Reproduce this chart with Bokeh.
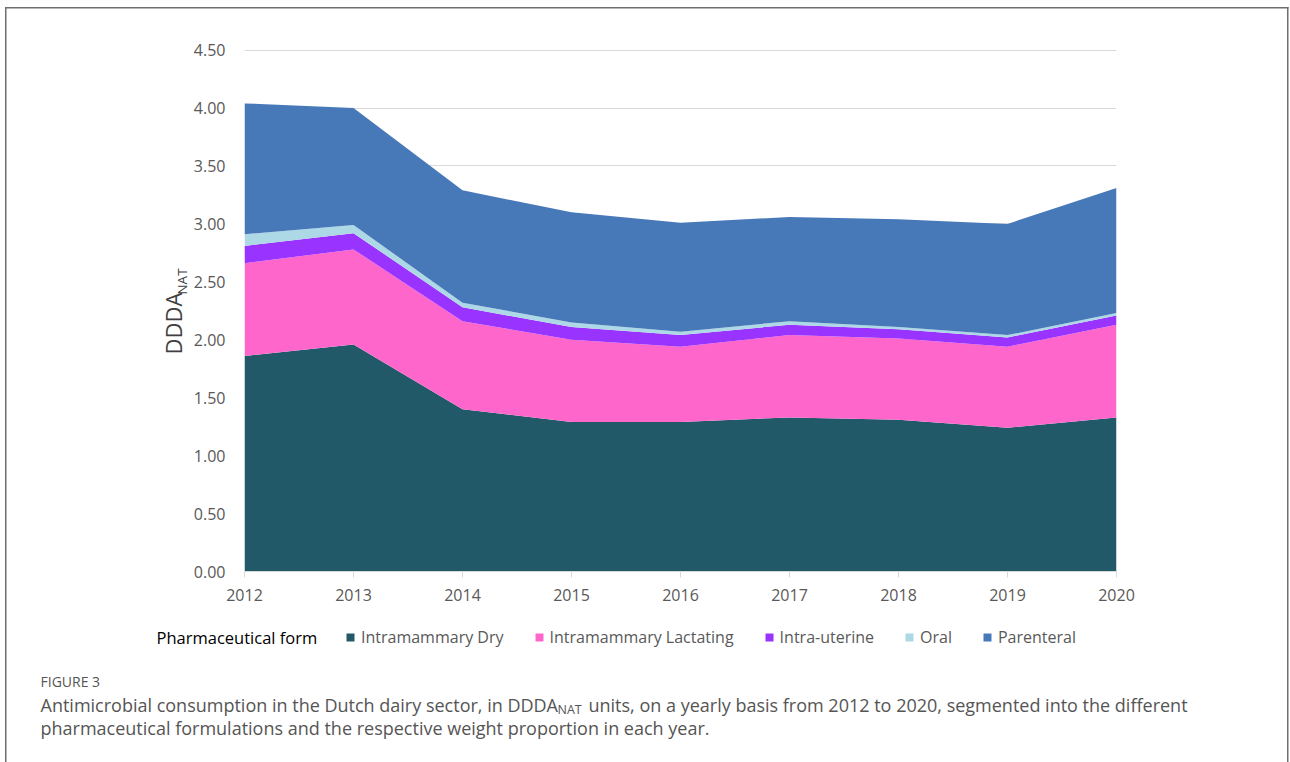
from math import pi
from bokeh.plotting import figure
from bokeh.layouts import column, row
from bokeh.models import (ColumnDataSource, Legend, LegendItem, Label,
                          NumeralTickFormatter, FixedTicker, Range1d)
from bokeh.embed import file_html
from bokeh.resources import INLINE

# ---- data ----
years = [2012, 2013, 2014, 2015, 2016, 2017, 2018, 2019, 2020]
intramammary_dry = [1.86, 1.96, 1.40, 1.29, 1.29, 1.33, 1.31, 1.24, 1.33]
intramammary_lactating = [0.80, 0.82, 0.76, 0.71, 0.65, 0.71, 0.70, 0.70, 0.80]
intra_uterine = [0.15, 0.14, 0.12, 0.11, 0.10, 0.09, 0.08, 0.08, 0.08]
oral = [0.10, 0.07, 0.04, 0.04, 0.03, 0.03, 0.02, 0.02, 0.02]
parenteral = [1.13, 1.01, 0.97, 0.95, 0.94, 0.90, 0.93, 0.96, 1.08]

series_names = ["Intramammary Dry", "Intramammary Lactating", "Intra-uterine", "Oral", "Parenteral"]
series_colors = ["#215968", "#FF66CC", "#9933FF", "#ADD8E6", "#4779B9"]
y_ticks = [0.0, 0.5, 1.0, 1.5, 2.0, 2.5, 3.0, 3.5, 4.0, 4.5]

source = ColumnDataSource(dict(
    year=years,
    **{series_names[0]: intramammary_dry,
       series_names[1]: intramammary_lactating,
       series_names[2]: intra_uterine,
       series_names[3]: oral,
       series_names[4]: parenteral}))

FONT = "Open Sans"
TICK_COLOR = "#595959"
CAP = "#555555"
BORDER = "#6E6E6E"

W, H = 1290, 762
LEFT_W = 190          # y-label strip
CHART_B = 610         # page y where the chart part ends
F_TOP, F_BOT, F_LEFT, F_RIGHT = 49, 571, 244, 1116   # chart frame in page px


def transparent(f):
    f.border_fill_alpha = 0
    f.background_fill_alpha = 0
    f.outline_line_color = None


def blank(width, height, x0, x1, y0, y1, top=0, bottom=0):
    """A figure without axes; data units equal page pixels."""
    f = figure(width=width, height=height, output_backend="svg", toolbar_location=None,
               x_range=Range1d(x0, x1), y_range=Range1d(y1, y0),
               x_axis_location=None, y_axis_location=None,
               min_border_left=0, min_border_right=0,
               min_border_top=top, min_border_bottom=bottom)
    transparent(f)
    f.xgrid.visible = False
    f.ygrid.visible = False
    return f


# ---- main chart ----
p = figure(width=W - LEFT_W, height=CHART_B,
           output_backend="svg", toolbar_location=None,
           x_range=Range1d(2012, 2020), y_range=Range1d(0, 4.505),
           min_border_left=F_LEFT - LEFT_W, min_border_right=W - F_RIGHT,
           min_border_top=F_TOP, min_border_bottom=CHART_B - F_BOT)
transparent(p)

renderers = p.varea_stack(stackers=series_names, x="year", color=series_colors, source=source)

p.xaxis.ticker = FixedTicker(ticks=years)
p.xaxis.axis_line_color = "#D9D9D9"
p.xaxis.major_tick_line_color = "#D9D9D9"
p.xaxis.major_tick_out = 6
p.xaxis.major_tick_in = 0
p.xaxis.minor_tick_line_color = None
p.xaxis.major_label_standoff = 11
p.xaxis.major_label_text_font = FONT
p.xaxis.major_label_text_font_size = "16px"
p.xaxis.major_label_text_color = TICK_COLOR

p.yaxis.ticker = FixedTicker(ticks=y_ticks)
p.yaxis.formatter = NumeralTickFormatter(format="0.00")
p.yaxis.axis_line_color = None
p.yaxis.major_tick_line_color = None
p.yaxis.major_tick_out = 0
p.yaxis.major_tick_in = 0
p.yaxis.minor_tick_line_color = None
p.yaxis.major_label_standoff = 19
p.yaxis.major_label_text_font = FONT
p.yaxis.major_label_text_font_size = "16px"
p.yaxis.major_label_text_color = TICK_COLOR

p.xgrid.grid_line_color = None
p.ygrid.grid_line_color = "#D9D9D9"
p.ygrid.grid_line_width = 1
p.ygrid.ticker = FixedTicker(ticks=y_ticks)

# ---- y-axis title strip (DDDA with subscript NAT); frame aligned with the chart frame ----
yl = blank(LEFT_W, CHART_B, 0, LEFT_W, F_TOP, F_BOT, top=F_TOP, bottom=CHART_B - F_BOT)
yl.add_layout(Label(x=172, y=323, text="DDDA", angle=pi / 2, text_align="center",
                    text_baseline="middle", text_font=FONT, text_font_size="22px",
                    text_color="#404040"))
yl.add_layout(Label(x=181, y=281, text="NAT", angle=pi / 2, text_align="center",
                    text_baseline="middle", text_font=FONT, text_font_size="13.5px",
                    text_color="#404040"))

# ---- bottom strip: legend + caption ----
bt = blank(W, H - CHART_B, 0, W, CHART_B, H)

# legend proxies (kept outside the visible range of this strip)
proxies = [bt.varea(x=[0, 1], y1=[H + 50, H + 50], y2=[H + 60, H + 60], color=c)
           for c in series_colors]
legend = Legend(items=[LegendItem(label=n, renderers=[r]) for n, r in zip(series_names, proxies)],
                orientation="horizontal", location=(345, H - 648),
                glyph_width=10, glyph_height=10, label_standoff=6, spacing=30,
                label_height=20, label_text_font=FONT, label_text_font_size="16px",
                label_text_color=TICK_COLOR, padding=0, margin=0,
                border_line_color=None, background_fill_alpha=0)
bt.add_layout(legend, "center")
bt.add_layout(Label(x=156, y=637, text="Pharmaceutical form", text_align="left",
                    text_baseline="middle", text_font=FONT, text_font_size="16.5px",
                    text_color="#000000"))

bt.add_layout(Label(x=40, y=681, text="FIGURE 3", text_align="left", text_baseline="middle",
                    text_font=FONT, text_font_size="14px", text_color=CAP))
bt.add_layout(Label(x=40, y=704, text="Antimicrobial consumption in the Dutch dairy sector, in DDDA",
                    text_align="left", text_baseline="middle", text_font=FONT,
                    text_font_size="18px", text_color=CAP))
bt.add_layout(Label(x=557, y=709, text="NAT", text_align="left", text_baseline="middle",
                    text_font=FONT, text_font_size="12.5px", text_color=CAP))
bt.add_layout(Label(x=588, y=704,
                    text="units, on a yearly basis from 2012 to 2020, segmented into the different",
                    text_align="left", text_baseline="middle", text_font=FONT,
                    text_font_size="18px", text_color=CAP))
bt.add_layout(Label(x=40, y=727,
                    text="pharmaceutical formulations and the respective weight proportion in each year.",
                    text_align="left", text_baseline="middle", text_font=FONT,
                    text_font_size="18px", text_color=CAP))

# outer frame of the figure panel (left, top and right edges) drawn as CSS background
g = f"linear-gradient({BORDER},{BORDER})"
frame_css = {
    "background-color": "white",
    "background-image": f"{g}, {g}, {g}",
    "background-position": "5px 7px, 5px 7px, 1287px 7px",
    "background-size": "1.5px 100%, 1283.5px 1.5px, 1.5px 100%",
    "background-repeat": "no-repeat",
}

layout = column(row(yl, p, spacing=0), bt, spacing=0, width=W, height=H, styles=frame_css)

open("out.html", "w").write(file_html(layout, INLINE))
